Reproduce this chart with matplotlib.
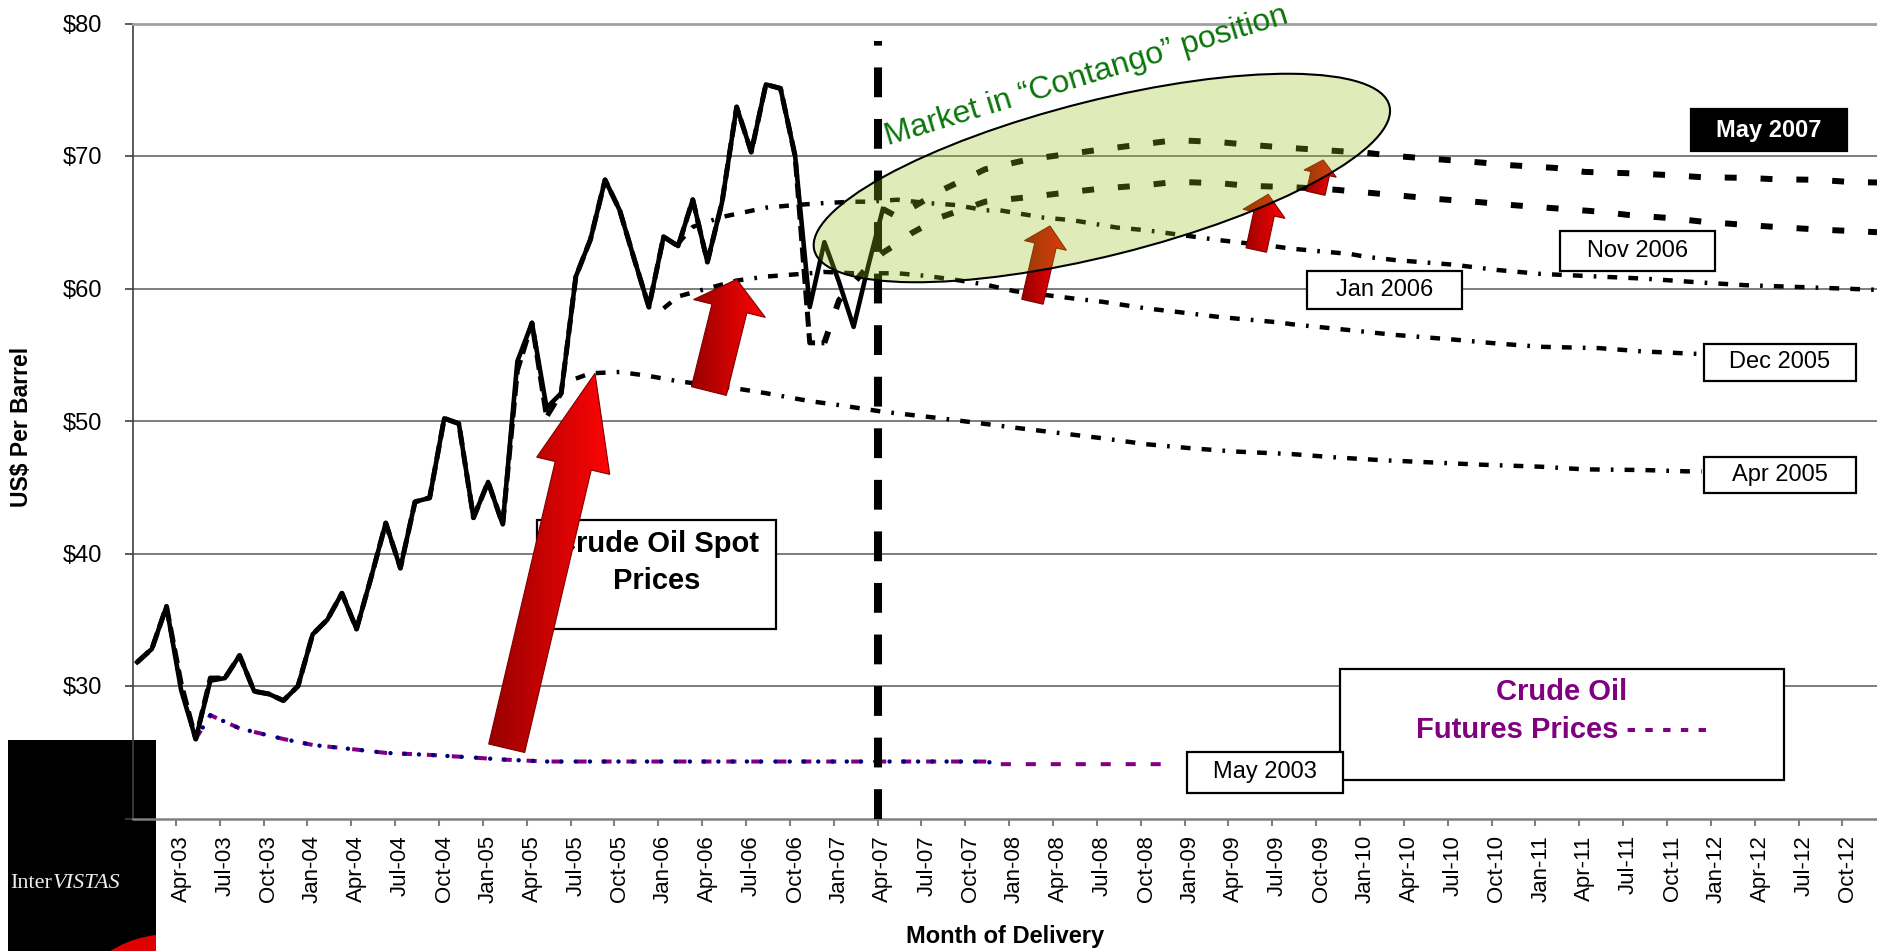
import numpy as np
import matplotlib
matplotlib.use("Agg")
import matplotlib.pyplot as plt
from matplotlib.patches import Polygon, Rectangle, Ellipse, Circle
from matplotlib.colors import LinearSegmentedColormap
from matplotlib.transforms import ScaledTranslation

plt.rcParams['font.family'] = ['Liberation Sans', 'DejaVu Sans']

# month index: 0 = Jan-03, 12 = Jan-04, ...
spot_month = list(range(0, 52))
spot_price = [31.8, 32.8, 36.0, 29.7, 26.0, 30.4, 30.6, 32.3, 29.6, 29.4,
              28.9, 30.0, 33.9, 35.0, 37.0, 34.3, 38.2, 42.3, 38.9, 43.9,
              44.2, 50.2, 49.8, 42.7, 45.4, 42.2, 54.5, 57.4, 51.0, 52.1,
              60.9, 63.7, 68.2, 65.9, 62.2, 58.6, 63.9, 63.2, 66.7, 62.0,
              66.5, 73.7, 70.3, 75.4, 75.1, 70.0, 58.6, 63.5, 60.5, 57.1,
              61.7, 66.0]

spot2_month = list(range(0, 48))
spot2_price = [31.8, 32.8, 36.0, 30.2, 26.0, 30.6, 30.6, 32.3, 29.6, 29.4,
               28.9, 30.0, 33.9, 35.0, 37.0, 34.3, 38.2, 42.3, 38.9, 43.9,
               44.2, 50.2, 49.8, 42.7, 45.4, 42.2, 53.8, 57.4, 50.3, 52.1,
               60.9, 63.7, 68.2, 65.9, 62.2, 58.6, 63.9, 63.2, 66.7, 62.0,
               66.5, 73.7, 70.3, 75.4, 75.1, 70.0, 55.9, 55.9]

# futures curves (month of delivery, price)
may03_month = [0, 1, 2, 3, 4, 5, 7, 10, 12, 15, 17, 20, 23, 25, 28, 58, 59]
may03_price = [31.8, 32.8, 36.0, 29.7, 26.0, 27.8, 26.8, 26.0, 25.55, 25.2,
               24.95, 24.8, 24.6, 24.45, 24.3, 24.3, 24.1]
may03b_month = [4, 5, 7, 10, 12, 15, 17, 20, 23, 25, 28, 58, 59, 71]
may03b_price = [26.0, 27.8, 26.8, 26.0, 25.55, 25.2, 24.95, 24.8, 24.6, 24.45,
                24.3, 24.3, 24.1, 24.1]

apr05_month = [30, 31, 33, 35, 37, 41, 43, 46, 48, 51, 55, 60, 63, 66, 69, 72,
               75, 77, 79, 82, 85, 89, 92, 96, 99, 103, 106, 107]
apr05_price = [53.2, 53.6, 53.7, 53.4, 53.0, 52.45, 52.1, 51.5, 51.2, 50.7,
               50.2, 49.5, 49.1, 48.7, 48.25, 47.95, 47.7, 47.6, 47.5, 47.25,
               47.05, 46.85, 46.7, 46.55, 46.35, 46.3, 46.2, 46.2]

dec05_month = [36, 37, 41, 43, 46, 47, 49, 52, 54, 56, 58, 60, 64, 66, 69, 71,
               74, 78, 79, 83, 86, 90, 93, 96, 100, 103, 107]
dec05_price = [58.5, 59.4, 60.6, 60.9, 61.15, 61.25, 61.15, 61.15, 60.95, 60.65,
               60.3, 59.8, 59.25, 59.0, 58.5, 58.25, 57.85, 57.45, 57.3, 56.85,
               56.5, 56.15, 55.85, 55.6, 55.5, 55.25, 55.05]

jan06_month = [37, 38, 40, 43, 45, 47, 49, 50, 52, 54, 56, 58, 59, 62, 64, 67,
               69, 71, 74, 76, 77, 79, 81, 83, 84, 86, 90, 93, 96, 100, 103,
               107, 110, 114, 119]
jan06_price = [63.4, 64.65, 65.4, 66.1, 66.3, 66.45, 66.55, 66.55, 66.7, 66.45,
               66.3, 65.9, 65.9, 65.35, 65.15, 64.6, 64.4, 64.1, 63.65, 63.4,
               63.3, 63.0, 62.8, 62.6, 62.4, 62.15, 61.8, 61.4, 61.1, 60.9,
               60.75, 60.45, 60.25, 60.1, 59.9]

nov06_month = [47, 48, 50, 51, 52, 53, 55, 58, 61, 64, 66, 69, 71, 74, 76, 79,
               82, 84, 87, 89, 92, 94, 97, 100, 102, 105, 107, 110, 112, 115,
               118, 119]
nov06_price = [55.9, 59.1, 61.7, 62.7, 63.4, 64.2, 65.4, 66.55, 66.9, 67.3,
               67.55, 67.8, 68.05, 67.95, 67.75, 67.65, 67.45, 67.25, 66.95,
               66.75, 66.5, 66.3, 66.05, 65.8, 65.55, 65.3, 65.05, 64.8, 64.65,
               64.45, 64.3, 64.25]

may07_month = [51, 52, 53, 55, 58, 61, 66, 71, 74, 76, 79, 81, 84, 86, 89, 92,
               94, 97, 99, 102, 105, 107, 110, 112, 115, 117, 119]
may07_price = [66.0, 65.4, 66.1, 67.4, 69.0, 69.75, 70.5, 71.2, 71.05, 70.85,
               70.6, 70.45, 70.25, 70.0, 69.75, 69.5, 69.3, 69.1, 68.8, 68.7,
               68.55, 68.4, 68.35, 68.25, 68.2, 68.05, 68.0]

now_month = 51  # Apr-07

tick_month = list(range(3, 118, 3))
tick_label = ['Apr-03', 'Jul-03', 'Oct-03',
              'Jan-04', 'Apr-04', 'Jul-04', 'Oct-04',
              'Jan-05', 'Apr-05', 'Jul-05', 'Oct-05',
              'Jan-06', 'Apr-06', 'Jul-06', 'Oct-06',
              'Jan-07', 'Apr-07', 'Jul-07', 'Oct-07',
              'Jan-08', 'Apr-08', 'Jul-08', 'Oct-08',
              'Jan-09', 'Apr-09', 'Jul-09', 'Oct-09',
              'Jan-10', 'Apr-10', 'Jul-10', 'Oct-10',
              'Jan-11', 'Apr-11', 'Jul-11', 'Oct-11',
              'Jan-12', 'Apr-12', 'Jul-12', 'Oct-12']
price_ticks = [20, 30, 40, 50, 60, 70, 80]
tick_shift = 0.36

W, H = 1877, 951
fig = plt.figure(figsize=(W / 100, H / 100), dpi=100)

# logo block, bottom left
lg = fig.add_axes([8.3 / W, 0, 147.7 / W, 211 / H])
lg.set_facecolor('black')
lg.set_xlim(0, 147.7)
lg.set_ylim(0, 211)
lg.set_xticks([])
lg.set_yticks([])
for s in lg.spines.values():
    s.set_visible(False)
lg.add_patch(Circle((160, -92), 108, color='#e00000'))
lg.text(1.7, 63, 'Inter', color='#eeeeee', fontsize=16, family='Liberation Serif', va='baseline')
lg.text(44.5, 63, 'VISTAS', color='#eeeeee', fontsize=16, family='Liberation Serif',
        style='italic', va='baseline')

ax = fig.add_axes([132.7 / W, 132.5 / H, 1 - 132.7 / W, 795 / H], facecolor='none')
ax.set_xlim(-0.31, 119.0)
ax.set_ylim(20, 80)

for v in price_ticks[1:-1]:
    ax.axhline(v, color='#5a5a5a', lw=1.1, zorder=0.5)

ax.spines['right'].set_visible(False)
ax.spines['top'].set_color('#a0a0a0')
ax.spines['top'].set_linewidth(2)
ax.spines['left'].set_color('#404040')
ax.spines['left'].set_linewidth(1.2)
ax.spines['bottom'].set_color('#808080')
ax.spines['bottom'].set_linewidth(1.8)

ax.set_yticks(price_ticks)
ax.set_yticklabels(['$%d' % v for v in price_ticks])
ax.tick_params(axis='y', length=6, width=1.2, color='#404040', pad=16, labelsize=17)
ax.set_xticks(tick_month)
ax.set_xticklabels(tick_label, rotation=90)
ax.tick_params(axis='x', which='major', length=0, pad=12, labelsize=16)
ax.set_xticks([m - tick_shift for m in tick_month], minor=True)
ax.tick_params(axis='x', which='minor', length=5, width=1.5, color='#808080')

# May 2003 curve: purple dashes with navy dots
ax.plot(may03b_month, may03b_price, color='#800080', lw=2.9, dashes=(2.5, 3.7), zorder=2)
ax.plot(may03_month, may03_price, color='#000080', lw=3.2, dashes=(0.01, 3.2),
        dash_capstyle='round', zorder=2.1)

# spot prices
ax.plot(spot2_month, spot2_price, color='black', lw=3.6, dashes=(3, 1.3), zorder=3)
ax.plot(spot_month, spot_price, color='black', lw=3.3, zorder=3.1)

for mm, pp in [(apr05_month, apr05_price), (dec05_month, dec05_price), (jan06_month, jan06_price)]:
    ax.plot(mm, pp, color='black', lw=3.2, dashes=(2.2, 2.5, 2.2, 2.5, 0.6, 2.5), zorder=3)
for mm, pp in [(nov06_month, nov06_price), (may07_month, may07_price)]:
    ax.plot(mm, pp, color='black', lw=4.3, dashes=(2, 4), zorder=3)

# "today" marker
ax.plot([now_month - tick_shift] * 2, [20, 78.7], color='black', lw=5.8,
        dashes=(3.7, 2.7), zorder=4)


def box(x0, x1, y0, y1, fc='white', z=8):
    ax.add_patch(Rectangle((x0, y0), x1 - x0, y1 - y0, facecolor=fc,
                           edgecolor='black', lw=1.6, zorder=z))


box(27.36, 43.69, 34.28, 42.53, z=5)
ax.text(35.53, 40.72, 'Crude Oil Spot', ha='center', va='center', fontsize=21,
        fontweight='bold', zorder=5.1)
ax.text(35.53, 37.95, 'Prices', ha='center', va='center', fontsize=21,
        fontweight='bold', zorder=5.1)

# red arrows: tail, tip (data), shaft width, head width, head length (pixels)
arrows = [((25.27, 25.30), (31.31, 53.60), 37, 75, 95),
          ((39.10, 52.26), (41.00, 60.69), 36, 74, 30),
          ((61.23, 59.00), (62.43, 64.72), 22, 43, 20),
          ((76.54, 62.90), (77.36, 67.11), 21, 43, 20),
          ((80.61, 67.19), (81.12, 69.70), 19, 33, 14)]
cmap = LinearSegmentedColormap.from_list('arr', ['#980000', '#ff0505'])
grad = np.linspace(0, 1, 256).reshape(1, -1)
for tail, tip, shaft, head_w, head_len in arrows:
    p0 = ax.transData.transform(tail)
    p1 = ax.transData.transform(tip)
    u = (p1 - p0) / np.hypot(*(p1 - p0))
    n = np.array([-u[1], u[0]])
    b = p1 - u * head_len
    pts = [p0 - n * shaft / 2, b - n * shaft / 2, b - n * head_w / 2, p1,
           b + n * head_w / 2, b + n * shaft / 2, p0 + n * shaft / 2]
    pd = ax.transData.inverted().transform(pts)
    poly = Polygon(pd, closed=True, facecolor='none', edgecolor='#800000', lw=0.8, zorder=6.1)
    ax.add_patch(poly)
    im = ax.imshow(grad, cmap=cmap, aspect='auto', interpolation='bilinear', zorder=6,
                   extent=(pd[:, 0].min(), pd[:, 0].max(), pd[:, 1].min(), pd[:, 1].max()))
    im.set_clip_path(poly)

# contango ellipse
tr = fig.dpi_scale_trans + ScaledTranslation(65.98, 68.34, ax.transData)
ax.add_patch(Ellipse((0, 0), 5.93, 1.55, angle=14.1, transform=tr,
                     facecolor=(150 / 255, 195 / 255, 25 / 255), alpha=0.3,
                     edgecolor='none', zorder=6.5))
ax.add_patch(Ellipse((0, 0), 5.93, 1.55, angle=14.1, transform=tr,
                     facecolor='none', edgecolor='black', lw=1.5, zorder=6.6))
ax.text(51.35, 70.83, 'Market in \u201cContango\u201d position', rotation=17,
        rotation_mode='anchor', ha='left', va='baseline', fontsize=23,
        color='#0b740b', zorder=9)

# curve labels
box(82.26, 112.63, 22.94, 31.30)
ax.text(97.45, 29.58, 'Crude Oil', ha='center', va='center', fontsize=21,
        fontweight='bold', color='#800080', zorder=9)
ax.text(97.45, 26.71, 'Futures Prices - - - - -', ha='center', va='center',
        fontsize=21, fontweight='bold', color='#800080', zorder=9)

labels = [('May 2003', 71.80, 82.47, 21.96, 24.99),
          ('Apr 2005', 107.16, 117.56, 44.54, 47.26),
          ('Dec 2005', 107.16, 117.56, 53.04, 55.81),
          ('Jan 2006', 79.99, 90.61, 58.43, 61.32),
          ('Nov 2006', 97.31, 107.91, 61.32, 64.34)]
for txt, x0, x1, y0, y1 in labels:
    box(x0, x1, y0, y1)
    ax.text((x0 + x1) / 2, (y0 + y1) / 2, txt, ha='center', va='center',
            fontsize=17, zorder=9)
box(106.27, 116.94, 70.38, 73.52, fc='black')
ax.text(111.6, 71.95, 'May 2007', ha='center', va='center', fontsize=17,
        fontweight='bold', color='white', zorder=9)

ax.set_xlim(-0.31, 119.0)
ax.set_ylim(20, 80)

fig.text(21.5 / W, 1 - 427 / H, 'US$ Per Barrel', rotation=90, ha='center',
         va='center', fontsize=16.5, fontweight='bold')
fig.text(1005 / W, 1 - 937 / H, 'Month of Delivery', ha='center', va='center',
         fontsize=17, fontweight='bold')

fig.savefig('out.png', dpi=100)
